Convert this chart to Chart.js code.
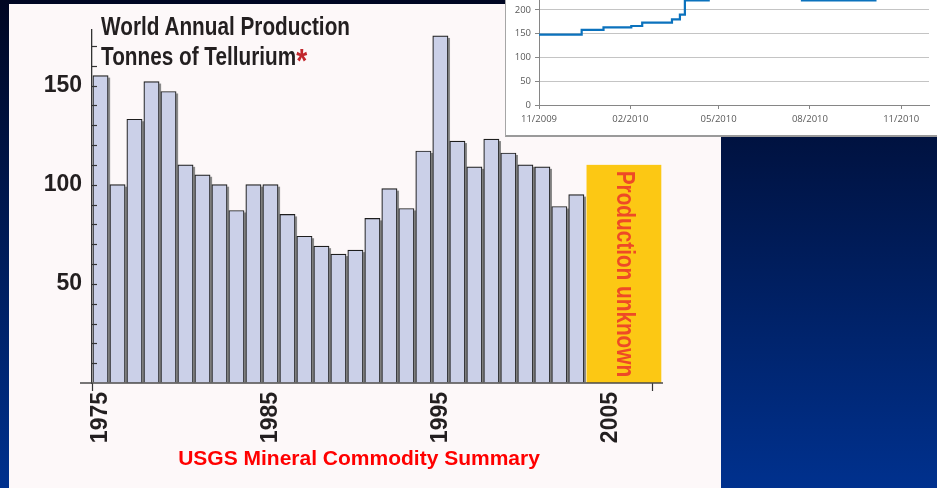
<!DOCTYPE html>
<html>
<head>
<meta charset="utf-8">
<script src="https://cdn.jsdelivr.net/npm/chart.js@4.4.0/dist/chart.umd.min.js"></script>
<style>
  html, body { margin: 0; padding: 0; }
  body {
    width: 937px; height: 488px; overflow: hidden; position: relative;
    background: linear-gradient(#000622, #00318e);
  }
  #panel { position: absolute; left: 9px; top: 4px; width: 712px; height: 484px; background: #fdf8f9; }
  #mainChart { position: absolute; left: 0; top: 0; }
  #title {
    position: absolute; left: 101px; top: 11px; color: #231f20; white-space: nowrap;
    font: bold 25px/30px "Liberation Sans", sans-serif;
    transform: scaleX(0.83); transform-origin: 0 0;
  }
  #title .star { color: #c1272d; font-size: 34px; line-height: 0; position: relative; top: 7px; }
  #source {
    position: absolute; left: 9px; width: 700px; top: 446px; text-align: center; color: #ff0000;
    font: bold 21px/24px "Liberation Sans", sans-serif;
  }
  #inset {
    position: absolute; left: 505px; top: 0; width: 432px; height: 137px; box-sizing: border-box;
    background: #ffffff; border-left: 1px solid #a6a6a6; border-bottom: 2px solid #9a9a9a; overflow: hidden;
  }
  #priceChart { position: absolute; left: 0; top: -30px; }
</style>
</head>
<body>
<div id="panel"></div>
<canvas id="mainChart" width="721" height="488"></canvas>
<div id="title">World Annual Production<br>Tonnes of Tellurium<span class="star">*</span></div>
<div id="source">USGS Mineral Commodity Summary</div>
<div id="inset"><canvas id="priceChart" width="431" height="165"></canvas></div>

<script>
// world production, tonnes per year
const years = [1975, 1976, 1977, 1978, 1979, 1980, 1981, 1982, 1983, 1984,
  1985, 1986, 1987, 1988, 1989, 1990, 1991, 1992, 1993, 1994,
  1995, 1996, 1997, 1998, 1999, 2000, 2001, 2002, 2003];
const tonnes = [155, 100, 133, 152, 147, 110, 105, 100, 87, 100,
  100, 85, 74, 69, 65, 67, 83, 98, 88, 117,
  175, 122, 109, 123, 116, 110, 109, 89, 95];
const yearLabels = [1975, 1985, 1995, 2005];
const yTickLabels = [50, 100, 150];

// years where production is unknown (yellow band)
const unknownFrom = 2003.6;
const unknownTo = 2008.0;
const unknownLevel = 110;

// inset: price steps
const priceStart = "2009-11-01";
const priceDates = ["2009-11-01", "2009-12-14", "2010-01-05", "2010-02-02", "2010-02-13",
  "2010-03-15", "2010-03-23", "2010-03-28", "2010-04-21", "2010-07-24", "2010-10-06", "2010-11-20"];
const priceValues = [148, 158, 163, 166, 173, 180, 190, 220, 245, 220, 260, 260];
const priceTickDates = ["2009-11-01", "2010-02-01", "2010-05-01", "2010-08-01", "2010-11-01"];
const priceTickLabels = ["11/2009", "02/2010", "05/2010", "08/2010", "11/2010"];

const SANS = '"Liberation Sans", Arial, sans-serif';

function dayOffset(dateStr) {
  return (Date.parse(dateStr) - Date.parse(priceStart)) / 86400000;
}

const mainDecor = {
  id: "mainDecor",
  beforeDatasetsDraw(chart) {
    const { ctx, scales } = chart;
    const x = scales.x;
    const y = scales.y;
    // yellow "unknown" band
    const left = x.getPixelForValue(unknownFrom);
    const right = x.getPixelForValue(unknownTo);
    const top = y.getPixelForValue(unknownLevel);
    const base = y.getPixelForValue(0);
    ctx.save();
    ctx.fillStyle = "#fcc814";
    ctx.fillRect(left, top, right - left, base - top);
    ctx.translate((left + right) / 2, (top + base) / 2);
    ctx.rotate(Math.PI / 2);
    ctx.scale(0.83, 1);
    ctx.fillStyle = "#ee4a26";
    ctx.font = `bold 25px ${SANS}`;
    ctx.textAlign = "center";
    ctx.textBaseline = "middle";
    ctx.fillText("Production unknown", 0, 0);
    ctx.restore();

    // grey shadow at the right of every bar
    ctx.save();
    ctx.fillStyle = "#8a8a8a";
    chart.getDatasetMeta(0).data.forEach((bar) => {
      ctx.fillRect(bar.x + bar.width / 2, bar.y + 2, 2, bar.base - bar.y - 2);
    });
    ctx.restore();
  },
  afterDatasetsDraw(chart) {
    const { ctx, chartArea, scales } = chart;
    ctx.save();
    ctx.strokeStyle = "#4a4a4a";
    ctx.lineWidth = 1.5;
    ctx.beginPath();
    ctx.moveTo(chartArea.left - 12, chartArea.bottom);
    ctx.lineTo(chartArea.right, chartArea.bottom);
    ctx.stroke();
    // inward minor ticks on the y axis
    ctx.strokeStyle = "#333333";
    ctx.lineWidth = 1.2;
    scales.y.ticks.forEach((t) => {
      if (t.value <= 0 || t.value % 10 !== 0) return;
      const py = Math.round(scales.y.getPixelForValue(t.value)) + 0.5;
      ctx.beginPath();
      ctx.moveTo(chartArea.left, py);
      ctx.lineTo(chartArea.left + 5, py);
      ctx.stroke();
    });
    ctx.restore();
  }
};

new Chart(document.getElementById("mainChart"), {
  type: "bar",
  data: {
    datasets: [{
      data: years.map((yr, i) => ({ x: yr, y: tonnes[i] })),
      backgroundColor: "#cbd0e8",
      borderColor: "#1e1e1e",
      borderWidth: 1.2,
      barThickness: "flex",
      barPercentage: 0.9,
      categoryPercentage: 1
    }]
  },
  options: {
    responsive: false,
    animation: false,
    layout: { padding: { left: 42, top: 30, right: 58, bottom: 35 } },
    plugins: { legend: { display: false }, tooltip: { enabled: false } },
    scales: {
      x: {
        type: "linear",
        min: 1974.5,
        max: 2008.1,
        offset: false,
        afterBuildTicks(axis) {
          axis.ticks = [1974.5, ...yearLabels, 2007.5].map((v) => ({ value: v }));
        },
        afterFit(axis) { axis.height = 70; },
        border: { display: false },
        grid: {
          offset: false,
          drawOnChartArea: false,
          tickLength: 8,
          tickWidth: 1.2,
          tickColor: (c) => (Number.isInteger(c.tick.value) ? "rgba(0,0,0,0)" : "#333333")
        },
        ticks: {
          autoSkip: false,
          minRotation: 90,
          maxRotation: 90,
          padding: 1,
          color: "#231f20",
          font: { family: SANS, size: 23, weight: "bold" },
          callback: (v) => (yearLabels.includes(v) ? String(v) : "")
        }
      },
      y: {
        min: 0,
        max: 178,
        afterFit(axis) { axis.width = 50; },
        border: { display: true, color: "#333333", width: 1.3 },
        grid: { drawOnChartArea: false, drawTicks: false },
        ticks: {
          stepSize: 10,
          includeBounds: false,
          autoSkip: false,
          padding: 10,
          color: "#231f20",
          font: { family: SANS, size: 23, weight: "bold" },
          callback: (v) => (yTickLabels.includes(v) ? String(v) : "")
        }
      }
    }
  },
  plugins: [mainDecor]
});

const insetFont = { family: '"Open Sans", sans-serif', size: 9.5 };

new Chart(document.getElementById("priceChart"), {
  type: "line",
  data: {
    datasets: [{
      data: priceDates.map((d, i) => ({ x: dayOffset(d), y: priceValues[i] })),
      borderColor: "#0b72bd",
      borderWidth: 2.2,
      pointRadius: 0,
      stepped: true,
      fill: false
    }]
  },
  options: {
    responsive: false,
    animation: false,
    layout: { padding: { left: 8, top: 16, right: 8, bottom: 4 } },
    plugins: { legend: { display: false }, tooltip: { enabled: false } },
    scales: {
      x: {
        type: "linear",
        min: 0,
        max: 393,
        afterBuildTicks(axis) {
          axis.ticks = priceTickDates.map((d) => ({ value: dayOffset(d) }));
        },
        afterFit(axis) { axis.height = 26; },
        border: { color: "#868686" },
        grid: { drawOnChartArea: false, tickLength: 4, tickColor: "#868686" },
        ticks: {
          autoSkip: false,
          maxRotation: 0,
          padding: 5,
          color: "#595959",
          font: insetFont,
          callback: (v) => priceTickLabels[priceTickDates.findIndex((d) => dayOffset(d) === v)]
        }
      },
      y: {
        min: 0,
        max: 250,
        afterFit(axis) { axis.width = 25; },
        border: { color: "#868686" },
        grid: { color: "#c4c4c4", tickLength: 4, tickColor: "#868686" },
        ticks: { stepSize: 50, padding: 4, color: "#595959", font: insetFont }
      }
    }
  }
});
</script>
</body>
</html>
